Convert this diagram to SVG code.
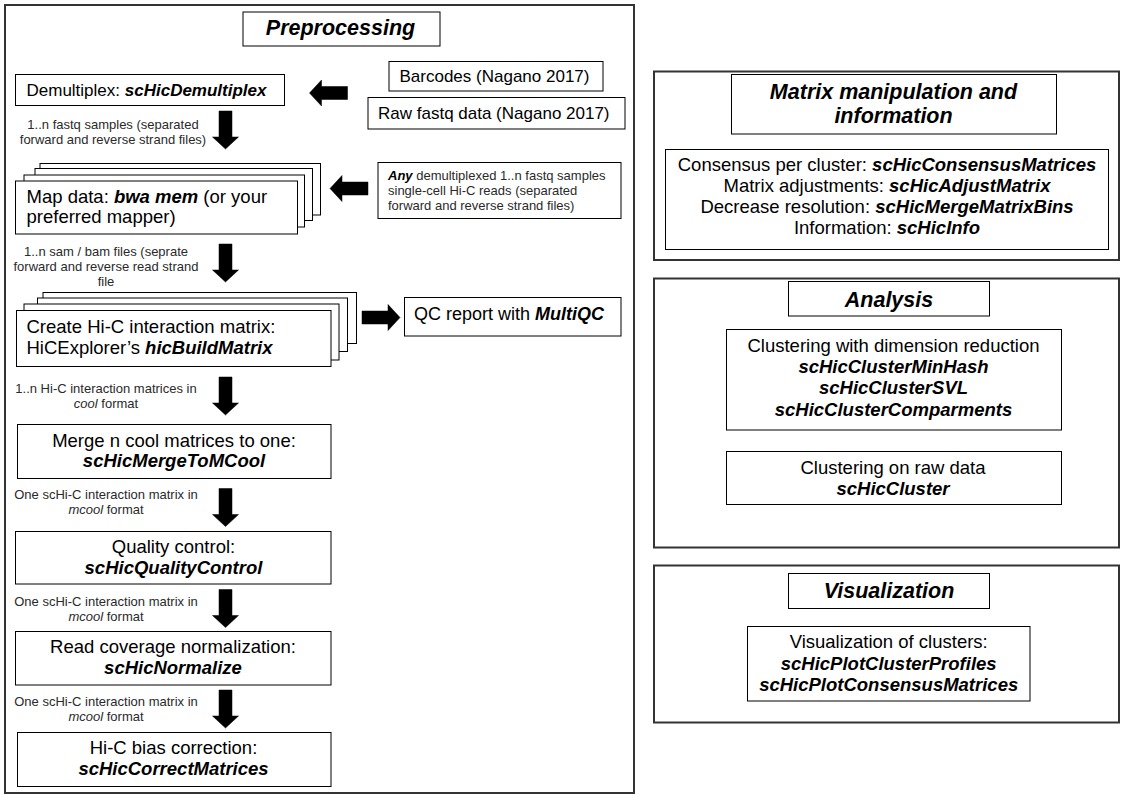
<svg xmlns="http://www.w3.org/2000/svg" xmlns:xlink="http://www.w3.org/1999/xlink" width="1123" height="794" viewBox="0 0 1123 794">
<style>
  text { font-family: "Liberation Sans", Arial, sans-serif; fill: #000; }
  .outer { fill: #fff; stroke: #333; stroke-width: 2; }
  .box { fill: #fff; stroke: #000; stroke-width: 1; }
  .title { font-size: 21.5px; font-weight: bold; font-style: italic; text-anchor: middle; }
  .t { font-size: 18.5px; }
  .t17 { font-size: 17px; }
  .c { text-anchor: middle; }
  .b { font-weight: bold; font-style: italic; }
  .i { font-style: italic; }
  .lbl { font-size: 13px; fill: #2a2a2a; text-anchor: middle; }
  .small { font-size: 13px; fill: #2a2a2a; }
  .arrow { fill: #000; stroke: #000; stroke-width: 0.5; }
</style>
<defs>
  <path id="arr" d="M-6.5,0 H6.5 V26 H13 L0,38 L-13,26 H-6.5 Z"/>
</defs>
<rect x="0" y="0" width="1123" height="794" fill="#fff"/>

<g id="preprocessing">
  <rect class="outer" x="5" y="5" width="629" height="788" stroke-width="1.5"/>
  <rect class="box" x="243" y="12" width="197" height="34"/>
  <text class="title" x="340.5" y="35">Preprocessing</text>
</g>

<g id="demultiplex">
  <rect class="box" x="15.5" y="74.5" width="269" height="31"/>
  <text class="t17" x="26.5" y="96">Demultiplex: <tspan class="b">scHicDemultiplex</tspan></text>
</g>

<g id="barcodes">
  <rect class="box" x="389" y="61.5" width="214" height="29.5"/>
  <text class="t17" x="399.5" y="82">Barcodes (Nagano 2017)</text>
</g>

<g id="rawfastq">
  <rect class="box" x="368" y="97.5" width="257" height="31.5"/>
  <text class="t17" x="378" y="118.5">Raw fastq data (Nagano 2017)</text>
</g>

<g id="anydemux">
  <rect class="box" x="378" y="162.5" width="243" height="56"/>
  <text class="small" x="388" y="179.5"><tspan class="b" style="fill:#000">Any</tspan> demultiplexed 1..n fastq samples</text>
  <text class="small" x="388" y="194.5">single-cell Hi-C reads (separated</text>
  <text class="small" x="388" y="209.5">forward and reverse strand files)</text>
</g>

<g id="mapdata">
  <rect class="box" x="40" y="163.5" width="280.5" height="51.5"/>
  <rect class="box" x="35" y="168.5" width="277.5" height="52"/>
  <rect class="box" x="24" y="175" width="280.5" height="52"/>
  <rect class="box" x="15.5" y="181" width="282" height="53"/>
  <text class="t" x="26.5" y="202.5">Map data: <tspan class="b">bwa mem</tspan> (or your</text>
  <text class="t" x="26.5" y="223">preferred mapper)</text>
</g>

<g id="buildmatrix">
  <rect class="box" x="43" y="292.5" width="313.5" height="51"/>
  <rect class="box" x="37.5" y="298" width="310" height="53.5"/>
  <rect class="box" x="24" y="304" width="315" height="56"/>
  <rect class="box" x="16.5" y="310.5" width="314.5" height="56"/>
  <text class="t" x="26.5" y="333.3">Create Hi-C interaction matrix:</text>
  <text class="t" x="26.5" y="353.5">HiCExplorer’s <tspan class="b">hicBuildMatrix</tspan></text>
</g>

<g id="multiqc">
  <rect class="box" x="404.5" y="297.5" width="216.5" height="38.5"/>
  <text class="t" x="414" y="319.5" style="font-size:18px">QC report with <tspan class="b">MultiQC</tspan></text>
</g>

<g id="merge">
  <rect class="box" x="17.5" y="424.5" width="313.5" height="54"/>
  <text class="t c" x="174" y="446.7">Merge n cool matrices to one:</text>
  <text class="t c b" x="174" y="467.3">scHicMergeToMCool</text>
</g>

<g id="quality">
  <rect class="box" x="15.5" y="531.5" width="315.5" height="52.5"/>
  <text class="t c" x="173.5" y="552.7">Quality control:</text>
  <text class="t c b" x="173.5" y="574">scHicQualityControl</text>
</g>

<g id="normalize">
  <rect class="box" x="15.5" y="631.5" width="315.5" height="53.5"/>
  <text class="t c" x="173" y="653.3">Read coverage normalization:</text>
  <text class="t c b" x="173" y="674">scHicNormalize</text>
</g>

<g id="correct">
  <rect class="box" x="17.5" y="732.5" width="313.5" height="54"/>
  <text class="t c" x="173.5" y="754">Hi-C bias correction:</text>
  <text class="t c b" x="173.5" y="775">scHicCorrectMatrices</text>
</g>

<g id="labels">
  <text class="lbl" x="113" y="128.5">1..n fastq samples (separated</text>
  <text class="lbl" x="113" y="143.5">forward and reverse strand files)</text>
  <text class="lbl" x="106" y="255.5">1..n sam / bam files (seprate</text>
  <text class="lbl" x="106" y="270.5">forward and reverse read strand</text>
  <text class="lbl" x="106" y="285.5">file</text>
  <text class="lbl" x="106" y="392.5">1..n Hi-C interaction matrices in</text>
  <text class="lbl" x="106" y="407.5"><tspan class="i">cool</tspan> format</text>
  <text class="lbl" x="106" y="498.5">One scHi-C interaction matrix in</text>
  <text class="lbl" x="106" y="513.5"><tspan class="i">mcool</tspan> format</text>
  <text class="lbl" x="106" y="606">One scHi-C interaction matrix in</text>
  <text class="lbl" x="106" y="621"><tspan class="i">mcool</tspan> format</text>
  <text class="lbl" x="106" y="706">One scHi-C interaction matrix in</text>
  <text class="lbl" x="106" y="721"><tspan class="i">mcool</tspan> format</text>
</g>

<g id="connectors">
  <use href="#arr" class="arrow" transform="translate(225.5,111)"/>
  <use href="#arr" class="arrow" transform="translate(225.5,244)"/>
  <use href="#arr" class="arrow" transform="translate(225.5,377)"/>
  <use href="#arr" class="arrow" transform="translate(225.5,488.5)"/>
  <use href="#arr" class="arrow" transform="translate(225.5,589.5)"/>
  <use href="#arr" class="arrow" transform="translate(225.5,690)"/>
  <use href="#arr" class="arrow" transform="translate(347.5,93) rotate(90)"/>
  <use href="#arr" class="arrow" transform="translate(368,188.5) rotate(90)"/>
  <use href="#arr" class="arrow" transform="translate(362,317.5) rotate(-90)"/>
</g>

<g id="matrix-manipulation">
  <rect class="outer" x="654" y="71.5" width="465" height="188.5"/>
  <rect class="box" x="731.5" y="74.5" width="325" height="59.5"/>
  <text class="title" x="893.5" y="99.3">Matrix manipulation and</text>
  <text class="title" x="893.5" y="123.3">information</text>
</g>

<g id="matrix-tools">
  <rect class="box" x="665.5" y="149.5" width="443" height="100"/>
  <text class="t c" x="887" y="170.7">Consensus per cluster: <tspan class="b">scHicConsensusMatrices</tspan></text>
  <text class="t c" x="887" y="191.7">Matrix adjustments: <tspan class="b">scHicAdjustMatrix</tspan></text>
  <text class="t c" x="887" y="213.3">Decrease resolution: <tspan class="b">scHicMergeMatrixBins</tspan></text>
  <text class="t c" x="887" y="234.3">Information: <tspan class="b">scHicInfo</tspan></text>
</g>

<g id="analysis">
  <rect class="outer" x="654" y="278.5" width="465" height="269"/>
  <rect class="box" x="788.5" y="281.5" width="201" height="34.5"/>
  <text class="title" x="889" y="306.7">Analysis</text>
</g>

<g id="cluster-dimred">
  <rect class="box" x="726.5" y="329.5" width="335" height="100.5"/>
  <text class="t c" x="893.5" y="351.7">Clustering with dimension reduction</text>
  <text class="t c b" x="893.5" y="372.7">scHicClusterMinHash</text>
  <text class="t c b" x="893.5" y="394">scHicClusterSVL</text>
  <text class="t c b" x="893.5" y="415.7">scHicClusterComparments</text>
</g>

<g id="cluster-raw">
  <rect class="box" x="726.5" y="451.5" width="335" height="53"/>
  <text class="t c" x="893" y="474">Clustering on raw data</text>
  <text class="t c b" x="893" y="495">scHicCluster</text>
</g>

<g id="visualization">
  <rect class="outer" x="654" y="565.5" width="465" height="157"/>
  <rect class="box" x="788.5" y="573.5" width="201" height="35"/>
  <text class="title" x="889" y="598.3">Visualization</text>
</g>

<g id="vis-clusters">
  <rect class="box" x="747.5" y="626.5" width="282.5" height="74.5"/>
  <text class="t c" x="888.7" y="648.3">Visualization of clusters:</text>
  <text class="t c b" x="888.7" y="670">scHicPlotClusterProfiles</text>
  <text class="t c b" x="888.7" y="691">scHicPlotConsensusMatrices</text>
</g>
</svg>
